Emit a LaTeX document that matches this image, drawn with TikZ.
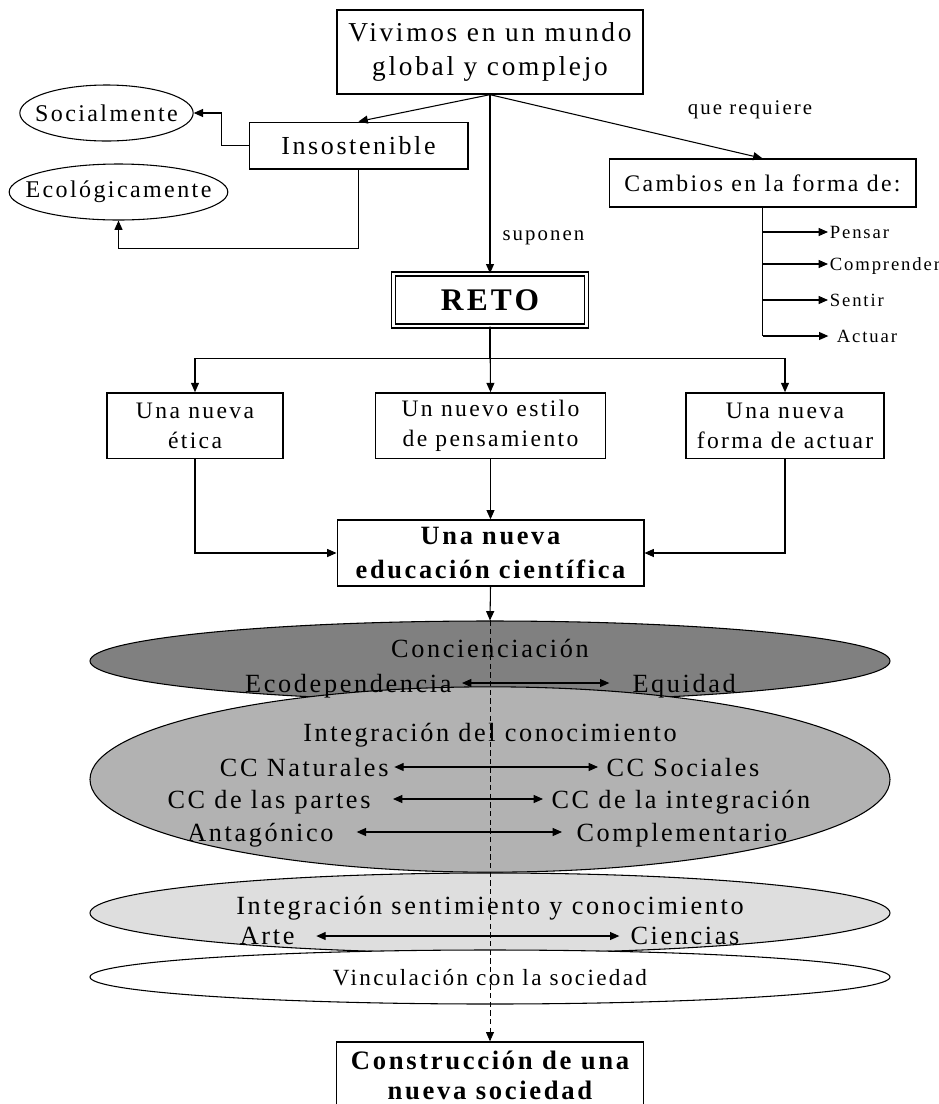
\documentclass[tikz,border=0pt]{standalone}
\usepackage{fontspec}
\setmainfont{Liberation Serif}[LetterSpace=10]
\usetikzlibrary{arrows.meta,shapes.geometric}

\definecolor{concgray}{gray}{0.50}
\definecolor{integgray}{gray}{0.70}
\definecolor{sentgray}{gray}{0.87}

\begin{document}
\begin{tikzpicture}[x=0.75pt, y=-0.75pt,
    box/.style={draw, line width=1pt, rectangle, align=center, inner sep=0pt},
    oval/.style={draw, line width=0.8pt, ellipse, inner sep=0pt, minimum height=42pt},
    ovaltxt/.style={inner sep=0pt, font=\fontsize{18}{22}\selectfont},
    band/.style={draw, line width=0.8pt, ellipse, inner sep=0pt, minimum width=600pt},
    word/.style={inner sep=0pt, text depth=0pt, font=\fontsize{19.7}{24}\selectfont},
    lbl/.style={inner sep=1pt, font=\fontsize{15.6}{18}\selectfont},
    verb/.style={anchor=west, inner sep=1pt, text depth=0pt, font=\fontsize{14}{16}\selectfont},
    >={Triangle[length=7pt, width=6pt]}, line width=0.8pt]
  \useasboundingbox (0,0) rectangle (939,1104);

  % top part
  \node[box, minimum width=229.5pt, minimum height=63pt, font=\fontsize{20.5}{25}\selectfont]
    (mundo) at (490,52) {Vivimos en un mundo\\global y complejo};
  \node[box, minimum width=164pt, minimum height=35pt, font=\fontsize{19.5}{24}\selectfont]
    (insost) at (358.5,145.5) {Insostenible};
  \node[oval, minimum width=130pt, label={[name=socialtxt, ovaltxt]center:Socialmente}]
    (social) at (106.5,113) {};
  \node[oval, minimum width=164pt, label={[name=ecologtxt, ovaltxt]center:Ecológicamente}]
    (ecolog) at (118.5,192) {};
  \node[box, minimum width=230pt, minimum height=36pt, font=\fontsize{17.8}{22}\selectfont]
    (cambios) at (762.5,183) {Cambios en la forma de:};
  \node[lbl] (requiere) at (750,110) {que requiere};
  \node[verb] (pensar) at (828,232) {Pensar};
  \node[verb] (comprender) at (828,264) {Comprender};
  \node[verb] (sentir) at (828,300) {Sentir};
  \node[verb] (actuar) at (835,336) {Actuar};

  \draw[->] (mundo.south) -- (insost.north);
  \draw[->] (mundo.south) -- (cambios.north);
  \draw[->] (insost.west) -- ++(-27,0) |- (social.east);
  \draw[->] (insost.south) -- ++(0,79) -| (ecolog.south);
  \draw (cambios.south) -- (cambios.south |- actuar.west);
  \foreach \w in {pensar,comprender,sentir}
    \draw[->] (cambios.south |- \w.west) -- (\w.west);
  \draw[->, shorten >=5pt] (cambios.south |- actuar.west) -- (actuar.west);

  % reto
  \node[box, double, double distance=2pt, minimum width=145pt, minimum height=39pt,
    font=\bfseries\fontsize{23.6}{28}\selectfont] (reto) at (490,300) {RETO};
  \draw[->] (mundo.south) -- node[pos=0.8, right=8pt, lbl] (suponen) {suponen} (reto.north);

  \node[box, minimum width=132pt, minimum height=49pt, font=\fontsize{17.7}{22.5}\selectfont]
    (etica) at (195,425.5) {Una nueva\\ética};
  \node[box, minimum width=172.5pt, minimum height=49pt, font=\fontsize{17.7}{22.5}\selectfont]
    (estilo) at (490.5,425.5) {Un nuevo estilo\\de pensamiento};
  \node[box, minimum width=148.5pt, minimum height=49pt, font=\fontsize{17.7}{22.5}\selectfont]
    (forma) at (785,425.5) {Una nueva\\forma de actuar};
  \node[box, minimum width=230pt, minimum height=49.5pt, font=\bfseries\fontsize{19.8}{26}\selectfont]
    (edu) at (490.5,553) {Una nueva\\educación científica};

  \draw[->] (reto.south) -- ++(0,32) -| (etica.north);
  \draw[->] (reto.south) -- ++(0,32) -| (forma.north);
  \draw[->] (reto.south) -- (estilo.north);
  \draw[->] (etica.south) |- (edu.west);
  \draw[->] (forma.south) |- (edu.east);
  \draw[->] (estilo.south) -- (edu.north);

  % bands
  \node[band, fill=concgray, minimum height=60pt] (ellConc) at (490,661) {};
  \node[band, fill=integgray, minimum height=139pt] (ellInteg) at (490,779.5) {};
  \node[band, fill=sentgray, minimum height=60pt] (ellSent) at (490,913) {};
  \node[band, fill=white, minimum height=40.5pt] (ellVinc) at (490,977) {};
  \draw[->] (edu.south) -- (ellConc.north);

  \node[word] (concien) at (490,648) {Concienciación};
  \node[word, anchor=east] (ecodep) at (452,683) {Ecodependencia};
  \node[word, anchor=west] (equidad) at (632,683) {Equidad};
  \node[word] (integ) at (490,732) {Integración del conocimiento};
  \node[word, anchor=east] (naturales) at (389,767) {CC Naturales};
  \node[word, anchor=west] (sociales) at (606,767) {CC Sociales};
  \node[word, anchor=east] (partes) at (371,799) {CC de las partes};
  \node[word, anchor=west] (integra) at (551,799) {CC de la integración};
  \node[word, anchor=east] (antag) at (334,832) {Antagónico};
  \node[word, anchor=west] (complem) at (576,832) {Complementario};
  \node[word] (sentim) at (490,905) {Integración sentimiento y conocimiento};
  \node[word, anchor=east] (arte) at (295,936) {Arte};
  \node[word, anchor=west] (ciencias) at (630,936) {Ciencias};
  \node[word, font=\fontsize{17.4}{20}\selectfont] (vincul) at (490,977) {Vinculación con la sociedad};

  \draw[<->, shorten <=7.5pt, shorten >=17pt] (ecodep) -- (equidad);
  \draw[<->, shorten <=4pt, shorten >=6pt] (naturales) -- (sociales);
  \draw[<->, shorten <=16.5pt, shorten >=6pt] (partes) -- (integra);
  \draw[<->, shorten <=17pt, shorten >=10.5pt] (antag) -- (complem);
  \draw[<->, shorten <=16pt, shorten >=8pt] (arte) -- (ciencias);

  % end
  \node[box, minimum width=230pt, minimum height=49.5pt, font=\bfseries\fontsize{20}{22.5}\selectfont]
    (sociedad) at (490,1075) {Construcción de una\\nueva sociedad};
  \draw[->, line width=0.6pt, dash pattern=on 4pt off 2.5pt] (ellConc.north) -- (sociedad.north);
\end{tikzpicture}
\end{document}
